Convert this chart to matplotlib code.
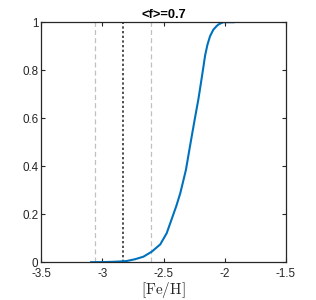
import numpy as np
import matplotlib
matplotlib.use("Agg")
from matplotlib import pyplot as plt

# values
feh = [-3.10, -3.00, -2.92, -2.855, -2.80, -2.732, -2.664, -2.596, -2.527, -2.474,
       -2.431, -2.395, -2.363, -2.317, -2.282, -2.246, -2.215, -2.189, -2.174, -2.161,
       -2.142, -2.120, -2.093, -2.070, -2.053, -2.030, -2.012, -1.92]
frac = [0.0, 0.0005, 0.0015, 0.003, 0.005, 0.0125, 0.023, 0.044, 0.074, 0.121,
        0.183, 0.235, 0.288, 0.385, 0.489, 0.593, 0.68, 0.765, 0.815, 0.86,
        0.905, 0.942, 0.969, 0.982, 0.990, 0.996, 1.0, 1.0]
feh_mean = -2.83
feh_lo = -3.06
feh_hi = -2.60
mean_f = 0.7

plt.rcParams['font.family'] = ['Liberation Sans', 'DejaVu Sans']
plt.rcParams['mathtext.fontset'] = 'cm'

fig = plt.figure(figsize=(3.16, 3.0), dpi=100)
ax = fig.add_axes([0.130, 0.126, 0.775, 0.800])

axc = '#262626'
ax.axvline(feh_lo, color='#c0c0c0', ls=(0, (4, 2.5)), lw=0.9)
ax.axvline(feh_hi, color='#c0c0c0', ls=(0, (4, 2.5)), lw=0.9)
ax.axvline(feh_mean, color='#505050', ls=(0, (1.2, 1.2)), lw=1.4)
ax.plot(feh, frac, color='#0072BD', lw=1.5, solid_capstyle='butt',
        solid_joinstyle='round')

ax.set_xlim(-3.5, -1.5)
ax.set_ylim(0, 1)
ax.set_xticks([-3.5, -3, -2.5, -2, -1.5])
ax.set_xticklabels(['-3.5', '-3', '-2.5', '-2', '-1.5'])
ax.set_yticks([0, 0.2, 0.4, 0.6, 0.8, 1])
ax.set_yticklabels(['0', '0.2', '0.4', '0.6', '0.8', '1'])
ax.tick_params(direction='in', top=True, right=True, length=3, width=0.8,
               labelsize=8.4, colors=axc, pad=2)
ax.tick_params(axis='x', pad=4.5)
for s in ax.spines.values():
    s.set_color(axc)
    s.set_linewidth(0.9)

ax.set_title('<f>=%.1f' % mean_f, fontsize=9.3, fontweight='bold', pad=3, color='black')
ax.set_xlabel(r'$[\mathrm{Fe/H}]$', fontsize=11, labelpad=0, color=axc)

fig.savefig('out.png', dpi=100)
